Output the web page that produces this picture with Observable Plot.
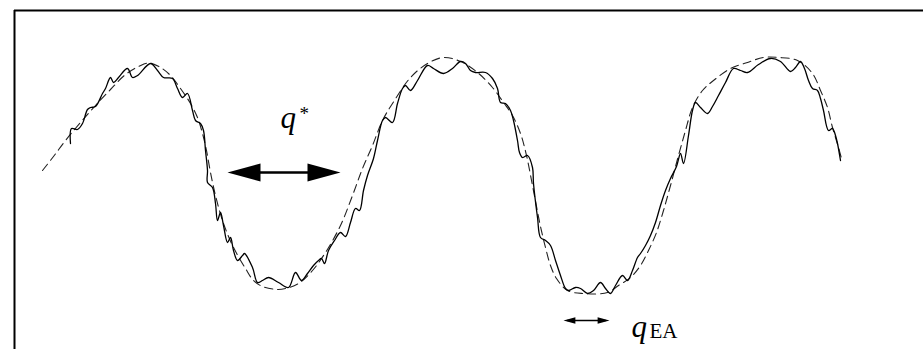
<!DOCTYPE html>
<html>
<head>
<meta charset="utf-8">
<script src="https://cdn.jsdelivr.net/npm/d3@7"></script>
<script src="https://cdn.jsdelivr.net/npm/@observablehq/plot@0.6"></script>
<style>
  html, body { margin: 0; padding: 0; background: #fff; }
  #chart svg { display: block; }
</style>
</head>
<body>
<div id="chart"></div>
<script>
// Smooth (mean-field) profile: q position and free energy E
const smoothQ = [28, 39, 51, 66, 81, 96, 111, 124, 134, 146, 156, 166, 176, 183, 188, 192, 196, 201, 208, 218, 231, 239, 248, 263, 271, 284, 298, 311, 326, 338, 348, 358, 368, 378, 396, 413, 429, 446, 463, 478, 489, 498, 506, 512, 518, 526, 531, 536, 542, 553, 569, 593, 604, 616, 626, 634, 642, 649, 656, 664, 671, 678, 688, 699, 716, 733, 749, 764, 783, 798, 806, 813, 818, 824, 827];
const smoothE = [5, 19, 35, 53, 70, 86, 101, 109, 112.5, 108, 100, 87, 72, 58, 42, 25, 3, -20, -45, -70, -93, -105, -111, -114, -113, -108, -95, -77, -50, -20, 7, 30, 55, 72, 98, 112, 118, 114, 103, 88, 73, 60, 42, 20, -10, -51, -72, -90, -103, -115, -118, -117, -110, -102, -90, -75, -57, -35, -10, 20, 45, 68, 85, 95, 107, 113, 118, 118, 115, 102, 85, 68, 48, 28, 17];

// Rugged profile with the small-scale valleys
const roughQ = [56, 57, 63, 68, 73, 76, 81, 88, 91, 96, 99, 104, 113, 118, 123, 136, 143, 149, 158, 163, 168, 173, 178, 181, 186, 189, 191, 193, 193, 198, 201, 203, 206, 209, 213, 216, 219, 223, 228, 230, 238, 243, 248, 254, 264, 274, 281, 287, 293, 299, 304, 307, 310, 314, 320, 326, 331, 336, 341, 345, 349, 353, 359, 363, 368, 371, 378, 383, 388, 391, 396, 403, 413, 419, 429, 438, 446, 451, 456, 461, 471, 478, 483, 486, 491, 496, 499, 503, 505, 508, 513, 518, 519, 523, 526, 531, 536, 541, 546, 551, 554, 561, 566, 573, 579, 586, 591, 596, 601, 608, 613, 618, 623, 626, 631, 636, 641, 646, 651, 656, 662, 666, 669, 674, 678, 681, 686, 693, 698, 704, 711, 719, 726, 733, 744, 756, 766, 776, 781, 786, 790, 794, 798, 803, 806, 809, 814, 818, 821, 823, 826];
const roughE = [32, 47, 46, 52, 66, 68, 69, 82, 87, 98, 93, 98, 107, 98, 100, 112, 105, 98, 97, 87, 78, 82, 65, 55, 52, 45, 25, 5, -7, -12, -28, -45, -37, -50, -67, -62, -75, -85, -80, -78, -92, -107, -105, -102, -107, -112, -97, -105, -98, -90, -85, -83, -88, -75, -65, -57, -61, -47, -33, -35, -15, 0, 17, 35, 55, 58, 53, 72, 87, 90, 85, 95, 110, 107, 102, 107, 114, 112, 105, 103, 103, 97, 87, 73, 72, 65, 55, 35, 23, 18, 20, 8, -8, -42, -62, -65, -70, -85, -100, -113, -115, -112, -113, -118, -115, -107, -113, -118, -110, -100, -105, -95, -82, -78, -70, -60, -47, -30, -15, -3, 9, 22, 12, 40, 65, 73, 68, 62, 69, 80, 93, 107, 105, 103, 111, 117, 114, 104, 108, 114, 107, 95, 87, 85, 77, 65, 45, 47, 40, 32, 15];

// Overlap scales: tips of the double arrows
const wideArrow = {from: 213, to: 326, E: 3};
const narrowArrow = {from: 549, to: 595, E: -145};

// Labels: italic symbols and upright marks / subscripts
const symbolLabels = [
  {q: 266, E: 48, text: "q"},
  {q: 617, E: -161, text: "q"}
];
const plainLabels = [
  {q: 285, E: 56, text: "*", size: 19},
  {q: 635, E: -162, text: "EA", size: 21}
];

const smooth = smoothQ.map((q, i) => ({q, E: smoothE[i]}));
const rough = roughQ.map((q, i) => ({q, E: roughE[i]}));

// Filled triangular arrowhead, tip at the origin, pointing to +x
function headSymbol(len, half) {
  return {
    draw(context, size) {
      const r = Math.sqrt(size / Math.PI);
      context.moveTo(0, 0);
      context.lineTo(-len * r, -half * r);
      context.lineTo(-len * r, half * r);
      context.closePath();
    }
  };
}
const head = headSymbol(3.3, 0.9);

const heads = (a) => [
  {q: a.from, E: a.E, angle: 180},
  {q: a.to, E: a.E, angle: 0}
];

const serif = "'Liberation Serif', 'DejaVu Serif', serif";

const chart = Plot.plot({
  width: 923,
  height: 349,
  marginLeft: 14,
  marginRight: 0,
  marginTop: 10,
  marginBottom: 0,
  x: {domain: [0, 909], axis: null},
  y: {domain: [-174, 165], axis: null},
  style: {background: "#fff"},
  marks: [
    Plot.ruleY([165], {stroke: "#000", strokeWidth: 1.8}),
    Plot.ruleX([0], {stroke: "#000", strokeWidth: 2}),
    Plot.line(smooth, {x: "q", y: "E", curve: "catmull-rom", stroke: "#222", strokeWidth: 1.1, strokeDasharray: "8,5"}),
    Plot.line(rough, {x: "q", y: "E", curve: "catmull-rom", stroke: "#000", strokeWidth: 1.3}),
    // wide arrow
    Plot.line([{q: wideArrow.from + 25, E: wideArrow.E}, {q: wideArrow.to - 25, E: wideArrow.E}], {x: "q", y: "E", stroke: "#000", strokeWidth: 2.6}),
    Plot.dot(heads(wideArrow), {x: "q", y: "E", rotate: "angle", r: 10, symbol: head, fill: "#000", stroke: "none"}),
    // narrow arrow
    Plot.line([{q: narrowArrow.from + 4, E: narrowArrow.E}, {q: narrowArrow.to - 4, E: narrowArrow.E}], {x: "q", y: "E", stroke: "#000", strokeWidth: 1.3}),
    Plot.dot(heads(narrowArrow), {x: "q", y: "E", rotate: "angle", r: 3.6, symbol: head, fill: "#000", stroke: "none"}),
    Plot.text(symbolLabels, {
      x: "q", y: "E", text: "text",
      fontSize: 31, fontStyle: "italic",
      textAnchor: "start", lineAnchor: "bottom",
      fontFamily: serif, fill: "#000"
    }),
    Plot.text(plainLabels, {
      x: "q", y: "E", text: "text", fontSize: "size",
      textAnchor: "start", lineAnchor: "bottom",
      fontFamily: serif, fill: "#000"
    })
  ]
});

document.getElementById("chart").append(chart);
</script>
</body>
</html>
